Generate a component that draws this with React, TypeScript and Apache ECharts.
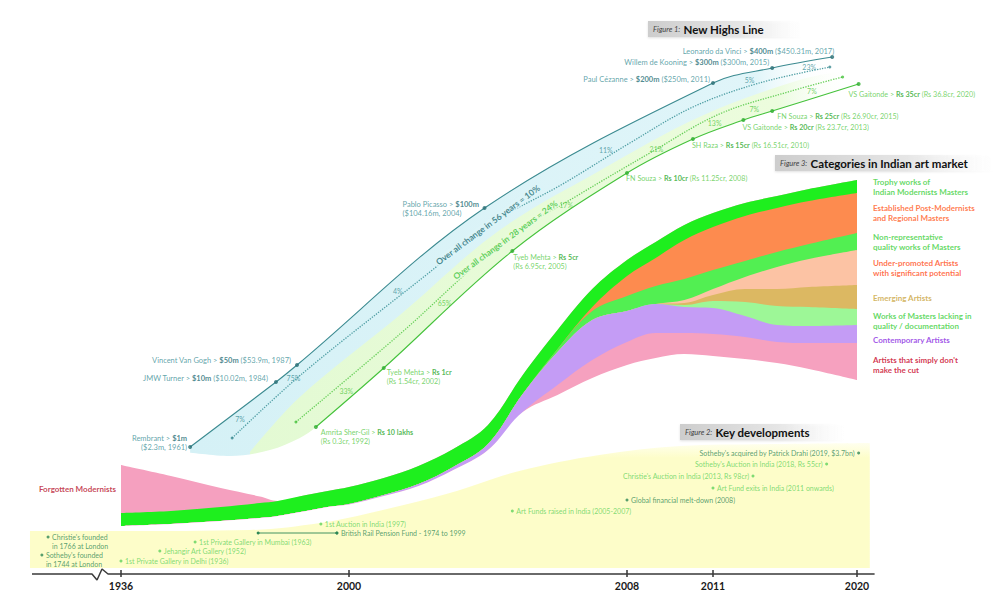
import React, { useEffect, useRef } from 'react';
import * as echarts from 'echarts';

const FONT = 'Lato, "Noto Sans", sans-serif';

// ---------- broken time axis (years -> axis units) ----------
const TIME_KNOTS = [1720, 1936, 2000, 2008, 2011, 2020];
const TIME_STOPS = [32, 121, 349, 627, 713, 857];
const AXIS_YEARS = [1936, 2000, 2008, 2011, 2020];
const AXIS_START = 1720;
const AXIS_END = 2021.1;
const AXIS_BREAK = [[1865.6, 3], [1877.8, -3], [1889.9, 8], [1904.5, 3]];
const AXIS_LEVEL = 3;

function timePos(year: number): number {
  let i = 0;
  while (i < TIME_KNOTS.length - 2 && year > TIME_KNOTS[i + 1]) i++;
  const t = (year - TIME_KNOTS[i]) / (TIME_KNOTS[i + 1] - TIME_KNOTS[i]);
  return TIME_STOPS[i] + t * (TIME_STOPS[i + 1] - TIME_STOPS[i]);
}

// ---------- Figure 1: New highs line ----------
const TEAL_POS = [1955.4, 1979.5, 1985.4, 2003.9, 2011.0, 2014.7, 2018.45];
const TEAL_LEVEL = [130, 195, 212, 369, 494, 509, 520];
const TEAL_LABELS = [
  'Rembrant > {v|$1m}\n($2.3m, 1961)',
  'JMW Turner > {v|$10m} ($10.02m, 1984)',
  'Vincent Van Gogh > {v|$50m} ($53.9m, 1987)',
  'Pablo Picasso > {v|$100m}\n($104.16m, 2004)',
  'Paul Cézanne > {v|$200m} ($250m, 2011)',
  'Willem de Kooning > {v|$300m} ($300m, 2015)',
  'Leonardo da Vinci > {v|$400m} ($450.31m, 2017)',
];
const TEAL_CHANGE = ['7%', '75%', '4%', '11%', '5%', '23%'];
const TEAL_TREND_POS = [1967.2, 1987.1, 2002.4, 2004.0, 2006.1, 2008.1, 2010.3, 2013.9, 2018.3];
const TEAL_TREND_LEVEL = [139, 204, 307, 352, 392, 434, 470, 494, 510];
const TEAL_TREND_NOTE = 'Over all change in 56 years = 10%';

const GREEN_POS = [1990.7, 2001.0, 2004.7, 2008.0, 2010.3, 2012.9, 2014.7, 2020.1];
const GREEN_LEVEL = [150, 209, 326, 404, 438, 457, 466, 493];
const GREEN_LABELS = [
  'Amrita Sher-Gil > {v|Rs 10 lakhs}\n(Rs 0.3cr, 1992)',
  'Tyeb Mehta > {v|Rs 1cr}\n(Rs 1.54cr, 2002)',
  'Tyeb Mehta > {v|Rs 5cr}\n(Rs 6.95cr, 2005)',
  'FN Souza > {v|Rs 10cr} (Rs 11.25cr, 2008)',
  'SH Raza > {v|Rs 15cr} (Rs 16.51cr, 2010)',
  'VS Gaitonde > {v|Rs 20cr} (Rs 23.7cr, 2013)',
  'FN Souza > {v|Rs 25cr} (Rs 26.90cr, 2015)',
  'VS Gaitonde > {v|Rs 35cr} (Rs 36.8cr, 2020)',
];
const GREEN_CHANGE = ['33%', '65%', '17%', '21%', '13%', '7%', '7%'];
const GREEN_TREND_POS = [1985.1, 2001.5, 2004.5, 2006.6, 2008.8, 2011.4, 2015.9, 2019.1];
const GREEN_TREND_LEVEL = [155, 244, 337, 382, 424, 463, 486, 500];
const GREEN_TREND_NOTE = 'Over all change in 28 years = 24%';

const BAND_SPLIT_POS = [1972.2, 1986.2, 2001.5, 2004.3, 2007.2, 2010.6, 2016.4, 2019.5];
const BAND_SPLIT_LEVEL = [125, 180, 263, 346, 406, 461, 497, 507];
const BAND_FLOOR_POS = [1954.2, 1966.6, 1977.8, 1986.2, ...GREEN_POS];
const BAND_FLOOR_LEVEL = [125, 121, 127, 139, ...GREEN_LEVEL];

// ---------- Figure 3: categories (layer thickness, bottom -> top) ----------
const FAN_YEARS = [1936, 1950, 1964, 1975, 1980, 1988, 1994, 2000, 2001, 2002, 2003, 2004, 2005, 2006, 2007, 2008, 2009, 2010, 2011, 2013, 2015, 2017, 2020];
const FAN_BASE = [51, 53, 56, 59, 61, 66, 70, 72.5, 81, 91, 107, 127, 165, 182, 199, 212, 219, 223, 221, 218, 214, 208, 197];
const CUT = [0, 0, 0, 0, 0, 0, 0, 0, 0, 0, 0, 0, 0, 10, 18, 23, 25, 21, 22, 22, 21, 26, 37];
const CONTEMPORARY = [0, 0, 0, 0, 0, 0, 0, 0.5, 1, 2, 3, 6, 18, 33, 40, 31, 29, 26, 26, 21, 17, 17, 18];
const LACKING = [0, 0, 0, 0, 0, 0, 0, 0, 0, 0, 0, 0, 0, 0, 0, 0, 0, 2, 7, 14, 19, 19, 16];
const EMERGING = [0, 0, 0, 0, 0, 0, 0, 0, 0, 0, 0, 0, 0, 0, 0, 0, 0, 2, 6, 13, 17, 20, 24];
const UNDERPROMOTED = [0, 0, 0, 0, 0, 0, 0, 0, 0, 0, 0, 0, 0, 0, 0, 0, 0, 3, 6, 12, 22, 28, 35];
const NONREP = [0, 0, 0, 0, 0, 0, 0, 0, 0, 0, 0, 0, 0, 3, 9, 15, 18, 21, 19, 16, 15, 15, 17];
const ESTABLISHED = [0, 0, 0, 0, 0, 0, 0, 0, 0, 0, 0, 0, 0, 0, 4, 20, 28, 39, 43, 45, 44, 43, 40];
const TROPHY = [13, 13, 14, 15, 15, 16, 16, 17, 17, 18, 18, 19, 19, 19, 18, 16, 16, 15, 14, 13, 12, 12, 13];
const FORGOTTEN = [48, 35, 19, 6.5, 0, 0, 0, 0, 0, 0, 0, 0, 0, 0, 0, 0, 0, 0, 0, 0, 0, 0, 0];

const FAN_LAYERS = [CUT, CONTEMPORARY, LACKING, EMERGING, UNDERPROMOTED, NONREP, ESTABLISHED, TROPHY, FORGOTTEN];
const FAN_COLORS = ['#f6a1bf', '#c49cf5', '#9df797', '#dcb862', '#fcc3a4', '#52ef52', '#fd8b4f', '#1eef1e', '#f5a0bf'];
const CATEGORY_NAMES = [
  "Artists that simply don't\nmake the cut",
  'Contemporary Artists',
  'Works of Masters lacking in\nquality / documentation',
  'Emerging Artists',
  'Under-promoted Artists\nwith significant potential',
  'Non-representative\nquality works of Masters',
  'Established Post-Modernists\nand Regional Masters',
  'Trophy works of\nIndian Modernists Masters',
];
const CATEGORY_TEXT_COLORS = ['#c8001e', '#8a2be2', '#3ccf3c', '#c9a33b', '#ff4f22', '#3ccf3c', '#ff5a22', '#3ccf3c'];
const FORGOTTEN_NAME = 'Forgotten Modernists';

// ---------- Figure 2: key developments ----------
const YELLOW_POS = [1715.1, 1936, 1972.2, 1991.9, 2000.6, 2002.9, 2004.9, 2007.2, 2009.85, 2015.2, 2020.8];
const YELLOW_LEVEL = [46, 46, 47, 54, 64, 84, 106, 122, 131, 133, 134];
const YELLOW_FLOOR = 9;

const EVENT_TEXT = [
  "Christie's founded\nin 1766 at London",
  "Sotheby's founded\nin 1744 at London",
  '1st Private Gallery in Delhi (1936)',
  'Jehangir Art Gallery (1952)',
  '1st Private Gallery in Mumbai (1963)',
  'British Rail Pension Fund - 1974 to 1999',
  '1st Auction in India (1997)',
  'Art Funds raised in India (2005-2007)',
  'Global financial melt-down (2008)',
  'Art Fund exits in India (2011 onwards)',
  "Christie's Auction in India (2013, Rs 98cr)",
  "Sotheby's Auction in India (2018, Rs 55cr)",
  "Sotheby's acquired by Patrick Drahi (2019, $3.7bn)",
];
const EVENT_POS = [1759, 1744, 1936, 1946.9, 1956.8, 1996.6, 1992.1, 2004.7, 2008, 2011, 2013.5, 2018.1, 2020.1];
const EVENT_LANE = [40, 22, 16, 26, 35, 44, 53, 66, 77, 89, 101, 113, 124];
const EVENT_SIDE = ['r', 'r', 'r', 'r', 'r', 'r', 'r', 'r', 'r', 'r', 'l', 'l', 'l'];
const EVENT_TONE = ['d', 'd', 'l', 'l', 'l', 'd', 'l', 'l', 'd', 'l', 'l', 'l', 'd'];
const PENSION_POS = [1974.5, 1996.6];
const PENSION_LANE = 44;

// ---------- styling ----------
const TEAL = '#3a8e95';
const TEAL_DARK = '#1e6d74';
const TEAL_LINE = '#3b8a90';
const GREEN_TXT = '#55c946';
const GREEN_DARK = '#2aa82a';
const GREEN_LINE = '#45c23b';
const EVENT_DARK = '#2e8755';
const EVENT_LIGHT = '#5fd25c';

const px = (xs: number[], ys: number[]) => xs.map((x, i) => [timePos(x), ys[i]]);

function fadeRight(c0: string, c1: string) {
  return new echarts.graphic.LinearGradient(0, 0, 1, 0, [
    { offset: 0, color: c0 },
    { offset: 0.88, color: c1 },
    { offset: 1, color: 'rgba(255,255,255,0)' },
  ]);
}

function fill(name: string, data: number[][], color: any, z: number, origin?: any) {
  const areaStyle: any = { color, opacity: 1 };
  if (origin !== undefined) areaStyle.origin = origin;
  return {
    type: 'line', name, data, z, smooth: 0.35, symbol: 'none', silent: true,
    lineStyle: { width: 0, opacity: 0 }, areaStyle, emphasis: { disabled: true },
  };
}

function curve(name: string, data: number[][], color: string, type: string, width: number, z: number) {
  return {
    type: 'line', name, data, z, smooth: 0.35, symbol: 'none', silent: true,
    lineStyle: { color, width, type }, emphasis: { disabled: true },
  };
}

function textScatter(name: string, data: any[], z: number, size = 1) {
  return {
    type: 'scatter', name, data, z, symbolSize: size, silent: true,
    itemStyle: { color: 'rgba(0,0,0,0)' }, emphasis: { disabled: true },
  };
}

function buildOption() {
  const tops: number[][] = [];
  let run = FAN_BASE.slice();
  FAN_LAYERS.forEach((layer) => {
    run = run.map((v, i) => v + layer[i]);
    tops.push(run);
  });
  const last = FAN_YEARS.length - 1;
  const series: any[] = [];

  // Figure 1 bands
  series.push(fill('globalBand', px(TEAL_POS, TEAL_LEVEL), fadeRight('#d5f1f6', '#e0f5f9'), 1));
  series.push(fill('indiaBand', px(BAND_SPLIT_POS, BAND_SPLIT_LEVEL), fadeRight('#e3fad3', '#ecfcdd'), 2));
  series.push(fill('bandFloor', px(BAND_FLOOR_POS, BAND_FLOOR_LEVEL), '#ffffff', 3));

  // Figure 3 fan (painted top layer first)
  for (let k = FAN_LAYERS.length - 1; k >= 0; k--) {
    series.push(fill('fan' + k, px(FAN_YEARS, tops[k]), FAN_COLORS[k], 5 + (FAN_LAYERS.length - 1 - k)));
  }
  series.push(fill('fanFloor', px(FAN_YEARS, FAN_BASE), '#ffffff', 14));

  // Figure 2 band
  const yellow = new echarts.graphic.LinearGradient(0, 0, 0, 1, [
    { offset: 0, color: 'rgba(254,254,200,0.3)' },
    { offset: 0.12, color: '#fdfdc9' },
    { offset: 1, color: '#fdfdc9' },
  ]);
  series.push(fill('keyDevelopments', px(YELLOW_POS, YELLOW_LEVEL), yellow, 15, YELLOW_FLOOR));

  // record lines and trend lines
  series.push(curve('globalHighs', px(TEAL_POS, TEAL_LEVEL), TEAL_LINE, 'solid', 1.1, 16));
  series.push(curve('globalTrend', px(TEAL_TREND_POS, TEAL_TREND_LEVEL), '#4f9ea4', 'dotted', 1.3, 16));
  series.push(curve('indiaHighs', px(GREEN_POS, GREEN_LEVEL), GREEN_LINE, 'solid', 1.1, 16));
  series.push(curve('indiaTrend', px(GREEN_TREND_POS, GREEN_TREND_LEVEL), '#66cf58', 'dotted', 1.3, 16));

  // pension fund connector
  series.push({
    type: 'line', name: 'pension', z: 17, silent: true, symbol: 'circle', symbolSize: 3,
    data: PENSION_POS.map((p) => [timePos(p), PENSION_LANE]),
    lineStyle: { color: EVENT_DARK, width: 0.9 }, itemStyle: { color: EVENT_DARK },
  });

  // axis line with break
  const axisPts = [[AXIS_START, AXIS_LEVEL], ...AXIS_BREAK, [AXIS_END, AXIS_LEVEL]];
  series.push({
    type: 'line', name: 'axisLine', z: 30, silent: true, symbol: 'none', clip: false,
    data: axisPts.map((p) => [timePos(p[0]), p[1]]),
    lineStyle: { color: '#3a3a3a', width: 1.5 },
  });

  // record dots + labels
  const tealLayout = [[-3, -4.5, 'right'], [-8, -4, 'right'], [-6, -5, 'right'], [-82, 0.5, 'left'], [-3, -4, 'right'], [-3, -6, 'right'], [2, -6, 'right']];
  series.push({
    type: 'scatter', name: 'globalRecords', z: 20, symbolSize: 4, silent: true,
    itemStyle: { color: '#2b6f75' },
    data: TEAL_POS.map((p, i) => ({
      value: [timePos(p), TEAL_LEVEL[i]],
      label: {
        show: true, position: 'inside', formatter: () => TEAL_LABELS[i],
        align: tealLayout[i][2], verticalAlign: 'middle', offset: [tealLayout[i][0], tealLayout[i][1]],
        fontSize: 7.5, lineHeight: 9, color: TEAL, fontFamily: FONT,
        rich: { v: { fontSize: 7.5, lineHeight: 9, fontWeight: 'bold', color: TEAL_DARK, fontFamily: FONT } },
      },
    })),
  });
  const greenLayout = [[5, 9.5], [3, 8.5], [1, 10.5], [-1, 5], [-1, 6], [-1, 7], [5, 5], [-10, 10]];
  series.push({
    type: 'scatter', name: 'indiaRecords', z: 20, symbolSize: 4, silent: true,
    itemStyle: { color: '#2fae2f' },
    data: GREEN_POS.map((p, i) => ({
      value: [timePos(p), GREEN_LEVEL[i]],
      label: {
        show: true, position: 'inside', formatter: () => GREEN_LABELS[i],
        align: 'left', verticalAlign: 'middle', offset: greenLayout[i],
        fontSize: 7.2, lineHeight: 9, color: GREEN_TXT, fontFamily: FONT,
        rich: { v: { fontSize: 7.2, lineHeight: 9, fontWeight: 'bold', color: GREEN_DARK, fontFamily: FONT } },
      },
    })),
  });

  // trend end dots
  const ends = (pos: number[], lev: number[]) => [0, pos.length - 1].map((i) => [timePos(pos[i]), lev[i]]);
  series.push({ type: 'scatter', name: 'globalTrendEnds', z: 19, symbolSize: 3, silent: true, itemStyle: { color: '#3b8a90' }, data: ends(TEAL_TREND_POS, TEAL_TREND_LEVEL) });
  series.push({ type: 'scatter', name: 'indiaTrendEnds', z: 19, symbolSize: 3, silent: true, itemStyle: { color: '#45c23b' }, data: ends(GREEN_TREND_POS, GREEN_TREND_LEVEL) });

  // growth between records
  const changes = (pos: number[], lev: number[], texts: string[], off: number[], color: string) =>
    texts.map((t, i) => ({
      value: [(timePos(pos[i]) + timePos(pos[i + 1])) / 2, (lev[i] + lev[i + 1]) / 2],
      label: { show: true, position: 'inside', formatter: () => t, offset: off, align: 'center', verticalAlign: 'middle', color, fontSize: 7, fontFamily: FONT },
    }));
  series.push(textScatter('globalChanges', changes(TEAL_POS, TEAL_LEVEL, TEAL_CHANGE, [7, 4], TEAL), 21));
  series.push(textScatter('indiaChanges', changes(GREEN_POS, GREEN_LEVEL, GREEN_CHANGE, [-3.5, -7], GREEN_TXT), 21));

  // overall-change notes on trend lines
  series.push(textScatter('notes', [
    {
      value: [timePos(TEAL_TREND_POS[3]), TEAL_TREND_LEVEL[3]],
      label: { show: true, position: 'inside', rotate: 36.7, align: 'center', verticalAlign: 'middle', formatter: () => TEAL_TREND_NOTE, color: TEAL_DARK, fontWeight: 'bold', fontSize: 8.5, fontFamily: FONT, backgroundColor: '#dcf4f8', padding: [0, 2] },
    },
    {
      value: [timePos(GREEN_TREND_POS[2]), GREEN_TREND_LEVEL[2]],
      label: { show: true, position: 'inside', rotate: 36.3, align: 'center', verticalAlign: 'middle', formatter: () => GREEN_TREND_NOTE, color: '#3cc43c', fontWeight: 'bold', fontSize: 8.5, fontFamily: FONT, backgroundColor: '#e8fbda', padding: [0, 2] },
    },
  ], 22));

  // category labels
  const dyTweak = [3.5, 6, 4, 1, 0.5, 0.5, 0, 0];
  series.push(textScatter('categories', CATEGORY_NAMES.map((n, k) => {
    const lower = k === 0 ? FAN_BASE[last] : tops[k - 1][last];
    return {
      value: [timePos(FAN_YEARS[last]), (lower + tops[k][last]) / 2],
      label: { show: true, position: 'inside', formatter: () => n, align: 'left', verticalAlign: 'middle', offset: [16, dyTweak[k]], color: CATEGORY_TEXT_COLORS[k], fontWeight: 'bold', fontSize: 8, lineHeight: 10, fontFamily: FONT },
    };
  }), 22));
  series.push(textScatter('forgotten', [{
    value: [timePos(FAN_YEARS[0]), FAN_BASE[0] + TROPHY[0] + FORGOTTEN[0] / 2],
    label: { show: true, position: 'inside', formatter: () => FORGOTTEN_NAME, align: 'right', verticalAlign: 'middle', offset: [-5, 0], color: '#b8122c', fontWeight: 'bold', fontSize: 8, fontFamily: FONT },
  }], 22));

  // key development events
  series.push({
    type: 'scatter', name: 'events', z: 22, symbolSize: 3, silent: true,
    data: EVENT_TEXT.map((t, i) => {
      const color = EVENT_TONE[i] === 'd' ? EVENT_DARK : EVENT_LIGHT;
      const two = t.indexOf('\n') >= 0;
      const left = EVENT_SIDE[i] === 'l';
      return {
        value: [timePos(EVENT_POS[i]), EVENT_LANE[i]],
        itemStyle: { color },
        label: {
          show: true, position: 'inside', formatter: () => t,
          align: left ? 'right' : 'left', verticalAlign: two ? 'top' : 'middle',
          offset: [left ? -4 : 4, two ? -4.5 : 0],
          color, fontSize: 7, lineHeight: 9, fontFamily: FONT,
        },
      };
    }),
  });

  const axisPos = AXIS_YEARS.map(timePos);
  const titleBox = (left: number, top: number, width: number, fig: string, title: string) => ({
    type: 'group', left, top, z: 100,
    children: [
      {
        type: 'rect', z: 100, shape: { x: 0, y: 0, width, height: 16 },
        style: {
          fill: new echarts.graphic.LinearGradient(0, 0, 1, 0, [
            { offset: 0, color: '#cdcdcd' }, { offset: 0.6, color: '#e6e6e6' }, { offset: 1, color: 'rgba(255,255,255,0)' },
          ]),
          shadowBlur: 2, shadowColor: 'rgba(0,0,0,0.12)', shadowOffsetY: 1,
        },
      },
      {
        type: 'text', z: 101, x: 5, y: 8,
        style: {
          text: '{f|' + fig + '} {t|' + title + '}', verticalAlign: 'middle',
          rich: {
            f: { fontSize: 7.5, fontStyle: 'italic', fill: '#444', fontFamily: FONT },
            t: { fontSize: 11.5, fontWeight: 'bold', fill: '#111', fontFamily: FONT },
          },
        },
      },
    ],
  });

  return {
    animation: false,
    backgroundColor: '#ffffff',
    grid: { left: 0, right: 0, top: 0, bottom: 23, containLabel: false },
    xAxis: {
      type: 'value', min: 0, max: 1000, z: 30,
      axisLine: { show: false }, splitLine: { show: false },
      axisTick: { show: true, inside: true, length: 7, customValues: axisPos, lineStyle: { color: '#333', width: 1.5 } },
      axisLabel: {
        show: true, customValues: axisPos, margin: 3,
        formatter: (v: number) => {
          const i = axisPos.findIndex((p) => Math.abs(p - v) < 0.5);
          return i >= 0 ? String(AXIS_YEARS[i]) : '';
        },
        fontFamily: FONT, fontWeight: 'bold', fontSize: 10.5, color: '#1a1a1a',
      },
    },
    yAxis: { type: 'value', min: 0, max: 577, show: false },
    graphic: {
      elements: [
        titleBox(648, 21, 155, 'Figure 1:', 'New Highs Line'),
        titleBox(680, 424, 165, 'Figure 2:', 'Key developments'),
        titleBox(775, 155, 220, 'Figure 3:', 'Categories in Indian art market'),
      ],
    },
    series,
  };
}

export default function App() {
  const ref = useRef<HTMLDivElement>(null);
  useEffect(() => {
    if (!ref.current) return;
    const chart = echarts.init(ref.current, null, { renderer: 'svg' });
    chart.setOption(buildOption() as any);
    return () => chart.dispose();
  }, []);
  return (
    <div
      ref={ref}
      style={{ position: 'fixed', left: 0, top: 0, width: 1000, height: 600, background: '#ffffff' }}
    />
  );
}
